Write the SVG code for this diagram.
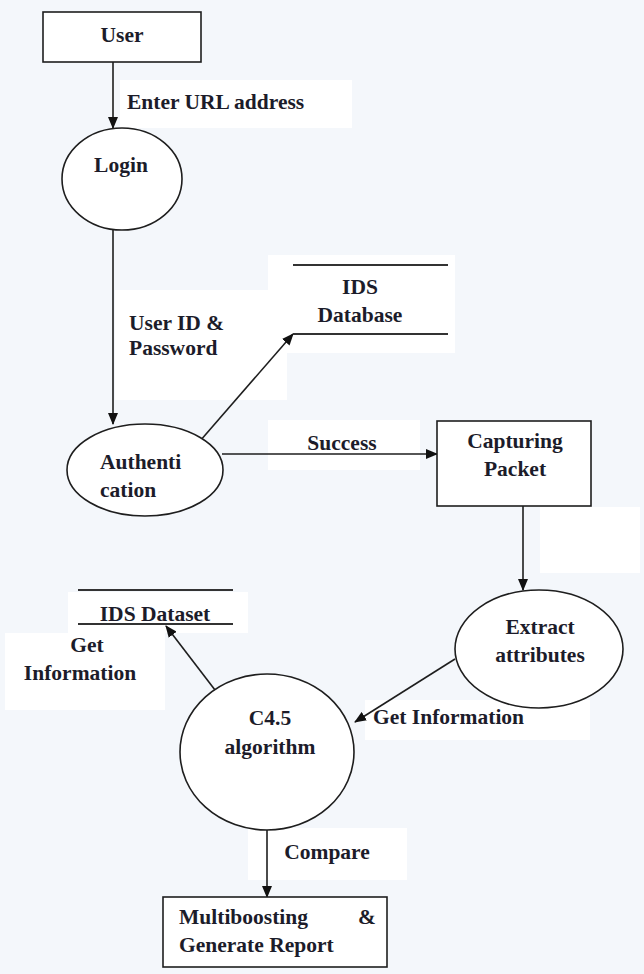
<svg xmlns="http://www.w3.org/2000/svg" width="644" height="974" viewBox="0 0 644 974">
<style>
.bg{fill:#f4f7fb}
.lb{fill:#ffffff}
.shape{fill:#ffffff;stroke:#1e1e1e;stroke-width:1.6}
.store{stroke:#333333;stroke-width:2;fill:none}
.conn{stroke:#1e1e1e;stroke-width:1.6;fill:none}
text{font-family:"Liberation Serif","Times New Roman",serif;font-weight:bold;font-size:21.5px;fill:#1c1c2a}
.c{text-anchor:middle}
</style>
<defs>
<marker id="arr" markerUnits="userSpaceOnUse" markerWidth="12" markerHeight="10" refX="11" refY="5" orient="auto">
<path d="M0,0 L12,5 L0,10 Z" fill="#111111"/>
</marker>
</defs>
<rect class="bg" x="0" y="0" width="644" height="974"/>
<g id="label-backgrounds">
<rect class="lb" x="120" y="80" width="232" height="48"/>
<rect class="lb" x="115" y="290" width="172" height="110"/>
<rect class="lb" x="268" y="255" width="187" height="98"/>
<rect class="lb" x="268" y="420" width="152" height="50"/>
<rect class="lb" x="540" y="507" width="100" height="66"/>
<rect class="lb" x="68" y="592" width="180" height="41"/>
<rect class="lb" x="5" y="633" width="160" height="77"/>
<rect class="lb" x="365" y="700" width="225" height="40"/>
<rect class="lb" x="248" y="828" width="159" height="52"/>
</g>
<g id="connectors">
<line class="conn" x1="113" y1="62" x2="113" y2="128" marker-end="url(#arr)"/>
<line class="conn" x1="113" y1="230" x2="113" y2="424" marker-end="url(#arr)"/>
<line class="conn" x1="200" y1="441" x2="293" y2="334" marker-end="url(#arr)"/>
<line class="conn" x1="222" y1="454" x2="437" y2="454" marker-end="url(#arr)"/>
<line class="conn" x1="523" y1="506" x2="523" y2="590" marker-end="url(#arr)"/>
<line class="conn" x1="455" y1="659" x2="355" y2="722" marker-end="url(#arr)"/>
<line class="conn" x1="215" y1="690" x2="166" y2="626" marker-end="url(#arr)"/>
<line class="conn" x1="267" y1="830" x2="267" y2="897" marker-end="url(#arr)"/>
<text x="127" y="109">Enter URL address</text>
<text x="129" y="330">User ID &amp;</text>
<text x="129" y="355">Password</text>
<text class="c" x="342" y="450">Success</text>
<text class="c" x="87" y="652">Get</text>
<text class="c" x="80" y="680">Information</text>
<text x="373" y="724">Get Information</text>
<text class="c" x="327" y="859">Compare</text>
</g>
<g id="user">
<rect class="shape" x="43" y="12" width="158" height="50"/>
<text class="c" x="122" y="42">User</text>
</g>
<g id="login">
<ellipse class="shape" cx="122" cy="179" rx="60" ry="51"/>
<text class="c" x="121" y="172">Login</text>
</g>
<g id="ids-database">
<line class="store" x1="293" y1="265" x2="448" y2="265"/>
<line class="store" x1="293" y1="334" x2="448" y2="334"/>
<text class="c" x="360" y="294">IDS</text>
<text class="c" x="360" y="322">Database</text>
</g>
<g id="authentication">
<ellipse class="shape" cx="145" cy="470" rx="78" ry="46"/>
<text x="100" y="469">Authenti</text>
<text x="100" y="497">cation</text>
</g>
<g id="capturing-packet">
<rect class="shape" x="437" y="421" width="154" height="85"/>
<text class="c" x="515" y="448">Capturing</text>
<text class="c" x="515" y="476">Packet</text>
</g>
<g id="extract-attributes">
<ellipse class="shape" cx="539" cy="649" rx="84" ry="59"/>
<text class="c" x="540" y="634">Extract</text>
<text class="c" x="540" y="662">attributes</text>
</g>
<g id="ids-dataset">
<line class="store" x1="78" y1="590" x2="233" y2="590"/>
<line class="store" x1="78" y1="624" x2="233" y2="624"/>
<text class="c" x="155" y="621">IDS Dataset</text>
</g>
<g id="c45">
<ellipse class="shape" cx="267" cy="752" rx="87" ry="78"/>
<text class="c" x="270" y="725">C4.5</text>
<text class="c" x="270" y="754">algorithm</text>
</g>
<g id="report">
<rect class="shape" x="163" y="897" width="224" height="70"/>
<text x="179" y="924">Multiboosting</text>
<text class="c" x="367" y="924">&amp;</text>
<text x="179" y="952">Generate Report</text>
</g>
</svg>
